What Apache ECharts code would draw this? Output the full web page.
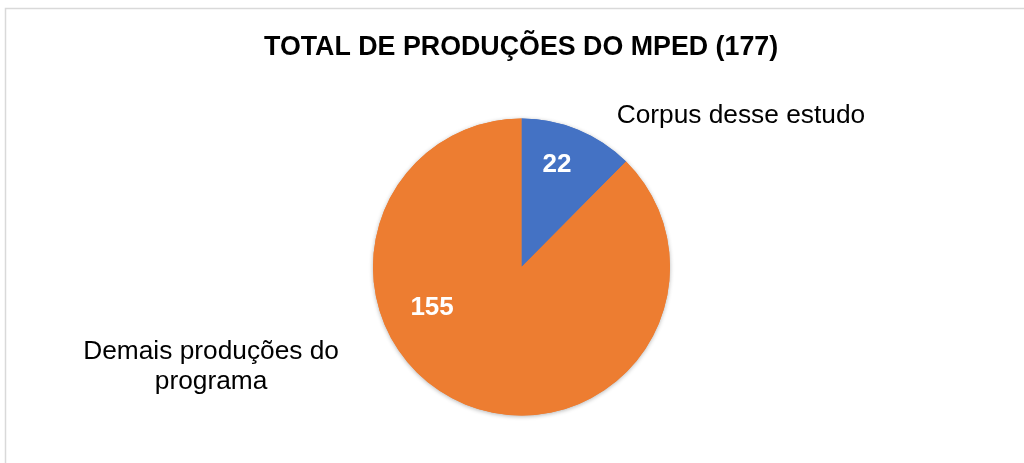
<!DOCTYPE html>
<html lang="pt-BR">
<head>
    <meta charset="UTF-8">
    <title>Total de produções do MPED</title>
    <script src="https://cdn.jsdelivr.net/npm/echarts@6/dist/echarts.min.js"></script>
    <style>
        body { margin: 0; padding: 0; background: #fff; }
        #chart { width: 1024px; height: 463px; }
    </style>
</head>
<body>
    <div id="chart"></div>
    <script>
        // dados
        const categories = ['Corpus desse estudo', 'Demais produções do\nprograma'];
        const values = [22, 155];
        const colors = ['#4472C4', '#ED7D31'];
        const titleText = 'TOTAL DE PRODUÇÕES DO MPED (177)';

        // deslocamentos dos rótulos (a partir da posição "inside")
        const valueShift = [[6, -31], [-60, -31]];
        const nameShift = [[190, -80], [-281, 28]];

        const font = '"Liberation Sans", Arial, sans-serif';
        const myChart = echarts.init(document.getElementById('chart'));

        const pieData = categories.map((name, i) => ({
            name: name,
            value: values[i],
            itemStyle: { color: colors[i] }
        }));

        const baseSeries = {
            type: 'pie',
            center: [521.5, 267],
            radius: [0, 148.5],
            startAngle: 90,
            clockwise: true,
            avoidLabelOverlap: false,
            labelLine: { show: false },
            emphasis: { disabled: true }
        };

        const option = {
            backgroundColor: '#fff',
            animation: false,
            title: {
                text: titleText,
                left: 259,
                top: 29,
                textStyle: {
                    fontFamily: font,
                    fontSize: 26.8,
                    fontWeight: 'bold',
                    color: '#000'
                }
            },
            graphic: [{
                type: 'rect',
                shape: { x: 5.5, y: 8.5, width: 1100, height: 600 },
                style: { fill: 'none', stroke: '#d9d9d9', lineWidth: 1.5 },
                silent: true
            }],
            series: [
                Object.assign({}, baseSeries, {
                    data: pieData,
                    itemStyle: {
                        shadowBlur: 4,
                        shadowOffsetY: 1,
                        shadowColor: 'rgba(0,0,0,0.3)'
                    },
                    label: {
                        show: true,
                        position: 'inside',
                        formatter: '{c}',
                        fontFamily: font,
                        fontSize: 26,
                        fontWeight: 'bold',
                        color: '#fff'
                    },
                    labelLayout: params => ({
                        dx: valueShift[params.dataIndex][0],
                        dy: valueShift[params.dataIndex][1]
                    })
                }),
                // série transparente só para os nomes das categorias
                Object.assign({}, baseSeries, {
                    data: pieData,
                    silent: true,
                    itemStyle: { color: 'rgba(0,0,0,0)' },
                    label: {
                        show: true,
                        position: 'inside',
                        formatter: '{b}',
                        fontFamily: font,
                        fontSize: 26.3,
                        lineHeight: 30,
                        align: 'center',
                        color: '#000'
                    },
                    labelLayout: params => ({
                        dx: nameShift[params.dataIndex][0],
                        dy: nameShift[params.dataIndex][1]
                    })
                })
            ]
        };

        myChart.setOption(option);
    </script>
</body>
</html>
